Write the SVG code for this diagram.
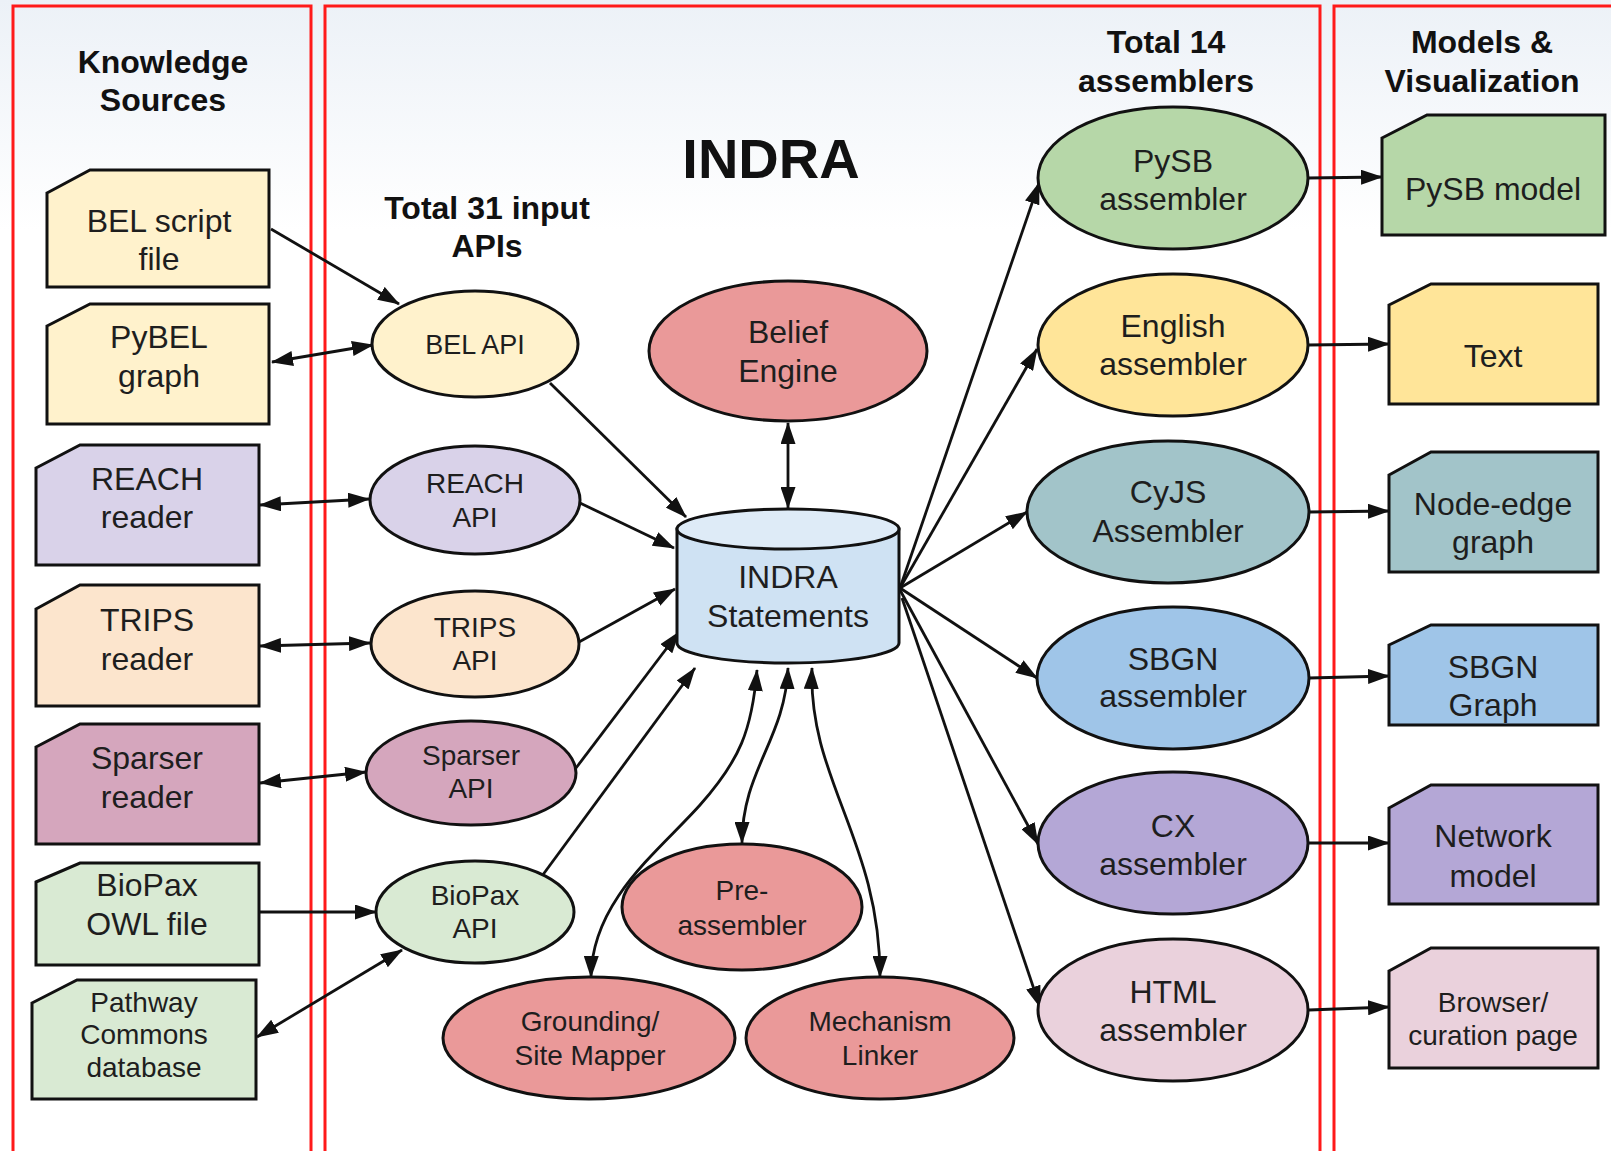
<svg xmlns="http://www.w3.org/2000/svg" width="1611" height="1151" viewBox="0 0 1611 1151">
<defs>
<linearGradient id="bg" x1="0" y1="0" x2="0" y2="1151" gradientUnits="userSpaceOnUse">
<stop offset="0" stop-color="#ecf1f7"/>
<stop offset="0.2" stop-color="#ffffff"/>
<stop offset="1" stop-color="#ffffff"/>
</linearGradient>
<marker id="ah" markerUnits="userSpaceOnUse" markerWidth="22" markerHeight="15" refX="21" refY="7.5" orient="auto-start-reverse" viewBox="0 0 22 15">
<path d="M0,0 L22,7.5 L0,15 Z" fill="#111"/>
</marker>
<style>
.panel{fill:none;stroke:#ff1a1a;stroke-width:3}
.shape{stroke:#111;stroke-width:3}
.lbl{font-family:"Liberation Sans",Arial,sans-serif;font-size:32px;fill:#1e1e1e;text-anchor:middle}
.sm{font-size:28px}
.hdr{font-family:"Liberation Sans",Arial,sans-serif;font-size:32px;font-weight:bold;fill:#111;text-anchor:middle}
.c{fill:none;stroke:#111;stroke-width:2.8}
.e{marker-end:url(#ah)}
.b{marker-start:url(#ah);marker-end:url(#ah)}
</style>
</defs>
<rect x="0" y="0" width="1611" height="1151" fill="url(#bg)"/>
<g id="panels">
<rect class="panel" x="13" y="6" width="298" height="1200"/>
<rect class="panel" x="325" y="6" width="995" height="1200"/>
<rect class="panel" x="1334" y="6" width="400" height="1200"/>
</g>
<g id="headers">
<text class="hdr" x="163" y="73">Knowledge</text>
<text class="hdr" x="163" y="111">Sources</text>
<text class="hdr" x="487" y="219">Total 31 input</text>
<text class="hdr" x="487" y="257">APIs</text>
<text class="hdr" x="771" y="178" style="font-size:56px">INDRA</text>
<text class="hdr" x="1166" y="53">Total 14</text>
<text class="hdr" x="1166" y="92">assemblers</text>
<text class="hdr" x="1482" y="53">Models &amp;</text>
<text class="hdr" x="1482" y="92">Visualization</text>
</g>
<g id="connectors">
<line class="c e" x1="271" y1="229" x2="399" y2="304"/>
<line class="c b" x1="272" y1="362" x2="373" y2="345"/>
<line class="c b" x1="260" y1="505" x2="369" y2="499"/>
<line class="c b" x1="260" y1="646" x2="370" y2="643"/>
<line class="c b" x1="260" y1="783" x2="366" y2="772"/>
<line class="c e" x1="259" y1="912" x2="376" y2="912"/>
<line class="c b" x1="257" y1="1037" x2="402" y2="950"/>
<line class="c e" x1="550" y1="383" x2="686" y2="517"/>
<line class="c e" x1="580" y1="503" x2="674" y2="548"/>
<line class="c e" x1="579" y1="642" x2="675" y2="589"/>
<line class="c e" x1="576" y1="768" x2="679" y2="632"/>
<line class="c e" x1="542" y1="876" x2="695" y2="668"/>
<line class="c b" x1="788" y1="423" x2="788" y2="508"/>
<path class="c b" d="M757,670 C752,730 740,760 700,805 S592,900 591,977"/>
<path class="c b" d="M788,668 C785,740 742,770 742,843"/>
<path class="c b" d="M812,668 C808,780 880,840 880,977"/>
<line class="c e" x1="900" y1="588" x2="1039" y2="183"/>
<line class="c e" x1="900" y1="588" x2="1037" y2="349"/>
<line class="c e" x1="900" y1="588" x2="1027" y2="512"/>
<line class="c e" x1="900" y1="588" x2="1037" y2="678"/>
<line class="c e" x1="900" y1="590" x2="1038" y2="844"/>
<line class="c e" x1="902" y1="598" x2="1040" y2="1007"/>
<line class="c e" x1="1308" y1="178" x2="1382" y2="177"/>
<line class="c e" x1="1308" y1="345" x2="1389" y2="344"/>
<line class="c e" x1="1309" y1="512" x2="1389" y2="511"/>
<line class="c e" x1="1309" y1="678" x2="1389" y2="676"/>
<line class="c e" x1="1309" y1="843" x2="1389" y2="843"/>
<line class="c e" x1="1309" y1="1010" x2="1389" y2="1007"/>
</g>
<g id="bel-script-file">
<path class="shape" fill="#fff2cc" d="M47,193 L90,170 L269,170 L269,287 L47,287 Z"/>
<text class="lbl" x="159" y="232">BEL script</text>
<text class="lbl" x="159" y="270">file</text>
</g>
<g id="pybel-graph">
<path class="shape" fill="#fff2cc" d="M47,326 L90,304 L269,304 L269,424 L47,424 Z"/>
<text class="lbl" x="159" y="348">PyBEL</text>
<text class="lbl" x="159" y="387">graph</text>
</g>
<g id="reach-reader">
<path class="shape" fill="#d9d2e9" d="M36,468 L80,445 L259,445 L259,565 L36,565 Z"/>
<text class="lbl" x="147" y="490">REACH</text>
<text class="lbl" x="147" y="528">reader</text>
</g>
<g id="trips-reader">
<path class="shape" fill="#fce5cd" d="M36,609 L80,585 L259,585 L259,706 L36,706 Z"/>
<text class="lbl" x="147" y="631">TRIPS</text>
<text class="lbl" x="147" y="670">reader</text>
</g>
<g id="sparser-reader">
<path class="shape" fill="#d5a6bd" d="M36,747 L80,724 L259,724 L259,844 L36,844 Z"/>
<text class="lbl" x="147" y="769">Sparser</text>
<text class="lbl" x="147" y="808">reader</text>
</g>
<g id="biopax-owl-file">
<path class="shape" fill="#d9ead3" d="M36,882 L80,863 L259,863 L259,965 L36,965 Z"/>
<text class="lbl" x="147" y="896">BioPax</text>
<text class="lbl" x="147" y="935">OWL file</text>
</g>
<g id="pathway-commons-database">
<path class="shape" fill="#d9ead3" d="M32,1003 L77,980 L256,980 L256,1099 L32,1099 Z"/>
<text class="lbl sm" x="144" y="1012">Pathway</text>
<text class="lbl sm" x="144" y="1044">Commons</text>
<text class="lbl sm" x="144" y="1077">database</text>
</g>
<g id="bel-api">
<ellipse class="shape" fill="#fff2cc" cx="475" cy="344" rx="103" ry="53"/>
<text class="lbl sm" x="475" y="354" style="font-size:27px">BEL API</text>
</g>
<g id="reach-api">
<ellipse class="shape" fill="#d9d2e9" cx="475" cy="500" rx="105" ry="54"/>
<text class="lbl sm" x="475" y="493">REACH</text>
<text class="lbl sm" x="475" y="527">API</text>
</g>
<g id="trips-api">
<ellipse class="shape" fill="#fce5cd" cx="475" cy="644" rx="104" ry="53"/>
<text class="lbl sm" x="475" y="637">TRIPS</text>
<text class="lbl sm" x="475" y="670">API</text>
</g>
<g id="sparser-api">
<ellipse class="shape" fill="#d5a6bd" cx="471" cy="773" rx="105" ry="52"/>
<text class="lbl sm" x="471" y="765">Sparser</text>
<text class="lbl sm" x="471" y="798">API</text>
</g>
<g id="biopax-api">
<ellipse class="shape" fill="#d9ead3" cx="475" cy="912" rx="99" ry="51"/>
<text class="lbl sm" x="475" y="905">BioPax</text>
<text class="lbl sm" x="475" y="938">API</text>
</g>
<g id="belief-engine">
<ellipse class="shape" fill="#ea9999" cx="788" cy="351" rx="139" ry="70"/>
<text class="lbl" x="788" y="343">Belief</text>
<text class="lbl" x="788" y="382">Engine</text>
</g>
<g id="indra-statements">
<path class="shape" fill="#cfe2f3" d="M677,529 L677,643 A111,20 0 0 0 899,643 L899,529 Z"/>
<ellipse class="shape" fill="#deebf7" cx="788" cy="529" rx="111" ry="20"/>
<text class="lbl" x="788" y="588">INDRA</text>
<text class="lbl" x="788" y="627">Statements</text>
</g>
<g id="pre-assembler">
<ellipse class="shape" fill="#ea9999" cx="742" cy="907" rx="120" ry="63"/>
<text class="lbl sm" x="742" y="900">Pre-</text>
<text class="lbl sm" x="742" y="935">assembler</text>
</g>
<g id="grounding-site-mapper">
<ellipse class="shape" fill="#ea9999" cx="589" cy="1038" rx="146" ry="61"/>
<text class="lbl sm" x="590" y="1031">Grounding/</text>
<text class="lbl sm" x="590" y="1065">Site Mapper</text>
</g>
<g id="mechanism-linker">
<ellipse class="shape" fill="#ea9999" cx="880" cy="1038" rx="134" ry="61"/>
<text class="lbl sm" x="880" y="1031">Mechanism</text>
<text class="lbl sm" x="880" y="1065">Linker</text>
</g>
<g id="pysb-assembler">
<ellipse class="shape" fill="#b6d7a8" cx="1173" cy="178" rx="135" ry="71"/>
<text class="lbl" x="1173" y="172">PySB</text>
<text class="lbl" x="1173" y="210">assembler</text>
</g>
<g id="english-assembler">
<ellipse class="shape" fill="#ffe599" cx="1173" cy="345" rx="135" ry="71"/>
<text class="lbl" x="1173" y="337">English</text>
<text class="lbl" x="1173" y="375">assembler</text>
</g>
<g id="cyjs-assembler">
<ellipse class="shape" fill="#a2c4c9" cx="1168" cy="512" rx="141" ry="71"/>
<text class="lbl" x="1168" y="503">CyJS</text>
<text class="lbl" x="1168" y="542">Assembler</text>
</g>
<g id="sbgn-assembler">
<ellipse class="shape" fill="#9fc5e8" cx="1173" cy="678" rx="136" ry="71"/>
<text class="lbl" x="1173" y="670">SBGN</text>
<text class="lbl" x="1173" y="707">assembler</text>
</g>
<g id="cx-assembler">
<ellipse class="shape" fill="#b4a7d6" cx="1173" cy="843" rx="135" ry="71"/>
<text class="lbl" x="1173" y="837">CX</text>
<text class="lbl" x="1173" y="875">assembler</text>
</g>
<g id="html-assembler">
<ellipse class="shape" fill="#ead1dc" cx="1173" cy="1010" rx="135" ry="71"/>
<text class="lbl" x="1173" y="1003">HTML</text>
<text class="lbl" x="1173" y="1041">assembler</text>
</g>
<g id="pysb-model">
<path class="shape" fill="#b6d7a8" d="M1382,138 L1427,115 L1605,115 L1605,235 L1382,235 Z"/>
<text class="lbl" x="1493" y="200">PySB model</text>
</g>
<g id="text-output">
<path class="shape" fill="#ffe599" d="M1389,305 L1431,284 L1598,284 L1598,404 L1389,404 Z"/>
<text class="lbl" x="1493" y="367">Text</text>
</g>
<g id="node-edge-graph">
<path class="shape" fill="#a2c4c9" d="M1389,475 L1431,452 L1598,452 L1598,572 L1389,572 Z"/>
<text class="lbl" x="1493" y="515">Node-edge</text>
<text class="lbl" x="1493" y="553">graph</text>
</g>
<g id="sbgn-graph">
<path class="shape" fill="#9fc5e8" d="M1389,645 L1431,625 L1598,625 L1598,725 L1389,725 Z"/>
<text class="lbl" x="1493" y="678">SBGN</text>
<text class="lbl" x="1493" y="716">Graph</text>
</g>
<g id="network-model">
<path class="shape" fill="#b4a7d6" d="M1389,808 L1431,785 L1598,785 L1598,904 L1389,904 Z"/>
<text class="lbl" x="1493" y="847">Network</text>
<text class="lbl" x="1493" y="887">model</text>
</g>
<g id="browser-curation-page">
<path class="shape" fill="#ead1dc" d="M1389,971 L1431,948 L1598,948 L1598,1068 L1389,1068 Z"/>
<text class="lbl sm" x="1493" y="1012">Browser/</text>
<text class="lbl sm" x="1493" y="1045">curation page</text>
</g>
</svg>
